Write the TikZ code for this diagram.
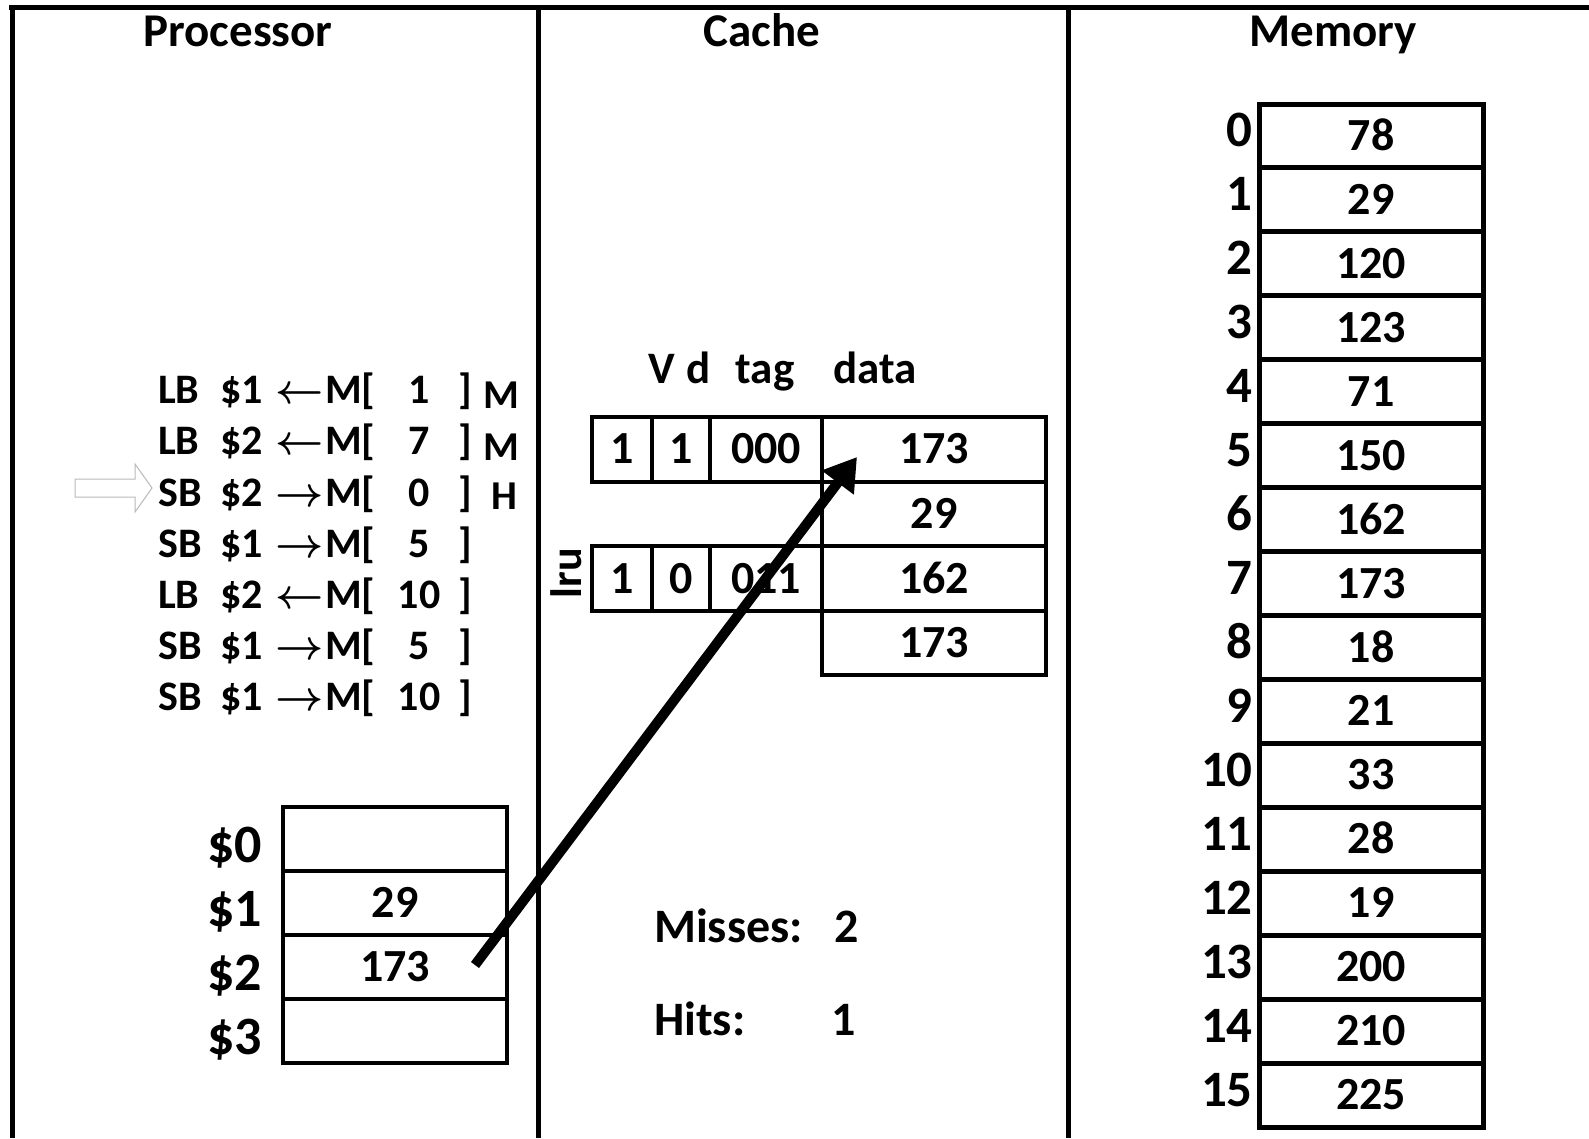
\RequirePackage{fix-cm}
\documentclass[tikz,border=0pt]{standalone}
\usepackage{fontspec}
\setmainfont{Carlito}
\usetikzlibrary{arrows.meta}
\newcommand\fsz[1]{\fontsize{#1}{#1}\selectfont\bfseries}
\newcommand\insline[4]{\makebox[62pt][l]{#1}\makebox[55pt][l]{\$#2}\makebox[50pt][l]{\boldmath$#3$}\makebox[74pt][l]{M[}\makebox[40pt][c]{#4}\hspace{19pt}]}
\begin{document}
\begin{tikzpicture}[x=1pt,y=-1pt,
  panel/.style={line width=5pt},
  hdr/.style={font=\fsz{47}, anchor=base, inner sep=0pt},
  instr/.style={font=\fsz{42}, anchor=base west, inner sep=0pt},
  hitmark/.style={font=\fsz{41}, anchor=base west, inner sep=0pt},
  memcell/.style={draw, line width=5pt, minimum width=224pt, minimum height=63.94pt, inner sep=0pt, font=\fsz{46}, text height=29pt, text depth=0pt},
  memidx/.style={font=\fsz{51}, anchor=east, inner sep=0pt, text height=32pt, text depth=0pt},
  regcell/.style={draw, line width=4.5pt, minimum width=224pt, minimum height=64pt, inner sep=0pt, font=\fsz{46}, text height=29pt, text depth=0pt},
  reglbl/.style={font=\fsz{54}, anchor=east, inner sep=0pt, text height=34pt, text depth=0pt},
  ccell/.style={draw, line width=4pt, minimum height=64.6pt, inner sep=0pt, font=\fsz{46}, text height=29pt, text depth=0pt},
  ctext/.style={font=\fsz{45}, anchor=base, inner sep=0pt},
  stat/.style={font=\fsz{48}, anchor=base west, inner sep=0pt}
]
\useasboundingbox (0,0) rectangle (1589,1138);
\fill[white] (0,0) rectangle (1589,1138);

% panel lines
\draw[panel] (9,7) -- (1589,7);
\draw[panel] (12,5) -- (12,1138);
\draw[panel] (538,5) -- (538,1138);
\draw[panel] (1068,5) -- (1068,1138);

% headers
\node[hdr] (hproc) at (238,46) {Processor};
\node[hdr] (hcache) at (762,46) {Cache};
\node[hdr] (hmem) at (1333,46) {Memory};

% instructions
\node[instr] (i1) at (158,403) {\insline{LB}{1}{\leftarrow}{1}};
\node[instr] (i2) at (158,454) {\insline{LB}{2}{\leftarrow}{7}};
\node[instr] (i3) at (158,506) {\insline{SB}{2}{\rightarrow}{0}};
\node[instr] (i4) at (158,557) {\insline{SB}{1}{\rightarrow}{5}};
\node[instr] (i5) at (158,608) {\insline{LB}{2}{\leftarrow}{10}};
\node[instr] (i6) at (158,659) {\insline{SB}{1}{\rightarrow}{5}};
\node[instr] (i7) at (158,710) {\insline{SB}{1}{\rightarrow}{10}};
\node[hitmark] (k1) at (483,408) {M};
\node[hitmark] (k2) at (483,460) {M};
\node[hitmark] (k3) at (491,509) {H};

% pointer arrow (hollow)
\draw[draw=gray!55, line width=1pt, fill=white]
  (75,479) -- (135,479) -- (135,464) -- (152,488) -- (135,512) -- (135,497) -- (75,497) -- cycle;

% registers
\foreach \v [count=\i from 0] in {{},29,173,{}} {
  \node[regcell] (r\i) at (395,{807+64*(\i+0.5)}) {\v};
  \node[reglbl] (rl\i) at (262,{807+64*(\i+0.5)+6}) {\$\i};
}

% cache header
\node[ctext] (cV) at (662,383) {V};
\node[ctext] (cD) at (699,383) {d};
\node[ctext] (cT) at (765,383) {tag};
\node[ctext] (cDa) at (875,383) {data};

% cache cells
\node[ccell, minimum width=60pt] (v0) at (622,449.3) {1};
\node[ccell, minimum width=58pt] (d0) at (681,449.3) {1};
\node[ccell, minimum width=112pt] (t0) at (766,449.3) {000};
\node[ccell, minimum width=60pt] (v1) at (622,578.5) {1};
\node[ccell, minimum width=58pt] (d1) at (681,578.5) {0};
\node[ccell, minimum width=112pt] (t1) at (766,578.5) {011};
\node[ccell, minimum width=224pt] (c0) at (934,449.3) {173};
\node[ccell, minimum width=224pt] (c1) at (934,513.9) {29};
\node[ccell, minimum width=224pt] (c2) at (934,578.5) {162};
\node[ccell, minimum width=224pt] (c3) at (934,643.1) {173};
\node[font=\fsz{44}, rotate=90, inner sep=0pt] (lru) at (566,573) {lru};

% stats
\node[stat] (ms) at (654,942) {Misses:};
\node[stat] (msv) at (834,942) {2};
\node[stat] (ht) at (654,1035) {Hits:};
\node[stat] (htv) at (831,1035) {1};

% memory
\foreach \v [count=\i from 0] in {78,29,120,123,71,150,162,173,18,21,33,28,19,200,210,225} {
  \node[memcell] (m\i) at (1371,{103+63.94*(\i+0.5)+1}) {\v};
  \node[memidx] (mi\i) at (1253,{103+63.94*(\i+0.5)-4}) {\i};
}

% data movement arrow
\coordinate (aS) at (475,965);
\coordinate (aE) at (857,457);
\draw[line width=10pt, -{Triangle[length=32pt,width=38pt]}] (aS) -- (aE);
\end{tikzpicture}
\end{document}
